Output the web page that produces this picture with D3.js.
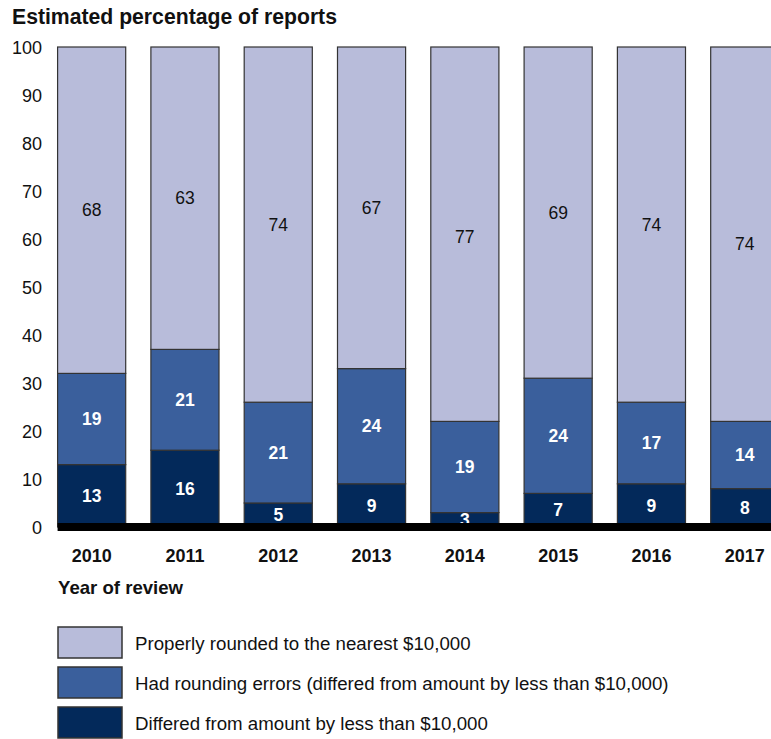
<!DOCTYPE html>
<html><head><meta charset="utf-8">
<script src="https://cdn.jsdelivr.net/npm/d3@7"></script>
<style>
html,body{margin:0;padding:0;background:#fff;overflow:hidden}
svg{display:block;font-family:"Liberation Sans",Arial,sans-serif}
</style></head><body>
<svg id="c" width="771" height="739"></svg>
<script>
const years = ["2010","2011","2012","2013","2014","2015","2016","2017"];
const differed = [13,16,5,9,3,7,9,8];
const roundingErrors = [19,21,21,24,19,24,17,14];
const properlyRounded = [68,63,74,67,77,69,74,74];
const yTicks = [0,10,20,30,40,50,60,70,80,90,100];
const seriesNames = [
  "Properly rounded to the nearest $10,000",
  "Had rounding errors (differed from amount by less than $10,000)",
  "Differed from amount by less than $10,000"
];
const colors = ["#b8bcda","#3a5f9c","#03295a"];

const svg = d3.select("#c");
const y = d3.scaleLinear().domain([0,100]).range([527,47]);
const x = d3.scaleBand().domain(years).range([45,791.4]).paddingInner(0.27).paddingOuter(0.135);

svg.append("text").attr("x",12).attr("y",23.5).attr("font-size",21.2).attr("font-weight","bold").attr("fill","#111")
  .text("Estimated percentage of reports");

// y axis labels
const yAxis = d3.axisLeft(y).tickValues(yTicks).tickSize(0).tickPadding(0);
const ya = svg.append("g").attr("transform","translate(42,0)").call(yAxis);
ya.select(".domain").remove();
ya.selectAll("text").attr("font-size",18).attr("fill","#111").attr("font-family","Liberation Sans, Arial, sans-serif").attr("dy","0.35em");

const rows = years.map((yr,i)=>({yr, d:differed[i], r:roundingErrors[i], p:properlyRounded[i]}));
const g = svg.append("g");
rows.forEach(row=>{
  const segs = [
    {v0:0, v1:row.d, top:row.d, val:row.d, c:colors[2], tc:"#fff", bold:true},
    {v0:row.d, v1:row.d+row.r, top:row.d+row.r, val:row.r, c:colors[1], tc:"#fff", bold:true},
    {v0:row.d+row.r, v1:100, top:row.d+row.r+row.p, val:row.p, c:colors[0], tc:"#111", bold:false}
  ];
  segs.forEach(s=>{
    g.append("rect").attr("x",x(row.yr)).attr("width",x.bandwidth())
      .attr("y",y(s.v1)).attr("height",y(s.v0)-y(s.v1))
      .attr("fill",s.c).attr("stroke","#333").attr("stroke-width",1.2);
  });
  segs.forEach(s=>{
    g.append("text").attr("x",x(row.yr)+x.bandwidth()/2).attr("y",(y(s.v0)+y(s.top))/2)
      .attr("dy","0.35em").attr("text-anchor","middle").attr("font-size",17.5)
      .attr("font-weight",s.bold?"bold":"normal").attr("fill",s.tc).text(s.val);
  });
});
// baseline
svg.append("rect").attr("x",x(years[0])).attr("y",y(0)-4).attr("width",771).attr("height",8).attr("fill","#000");

// x labels
const xAxis = d3.axisBottom(x).tickSize(0).tickPadding(0);
const xa = svg.append("g").attr("transform","translate(0,556)").call(xAxis);
xa.select(".domain").remove();
xa.selectAll("text").attr("font-size",18).attr("font-weight","bold").attr("fill","#111")
  .attr("font-family","Liberation Sans, Arial, sans-serif").attr("dy","0.35em");

svg.append("text").attr("x",58).attr("y",593.5).attr("font-size",18.6).attr("font-weight","bold").attr("fill","#111").text("Year of review");

// legend
const leg = svg.append("g");
seriesNames.forEach((n,i)=>{
  const yy = 627 + i*40;
  leg.append("rect").attr("x",58).attr("y",yy).attr("width",64).attr("height",31)
    .attr("fill",colors[i]).attr("stroke","#333").attr("stroke-width",1.5);
  leg.append("text").attr("x",135).attr("y",yy+16).attr("dy","0.35em").attr("font-size",18.7).attr("fill","#111").text(n);
});
</script>
</body></html>
